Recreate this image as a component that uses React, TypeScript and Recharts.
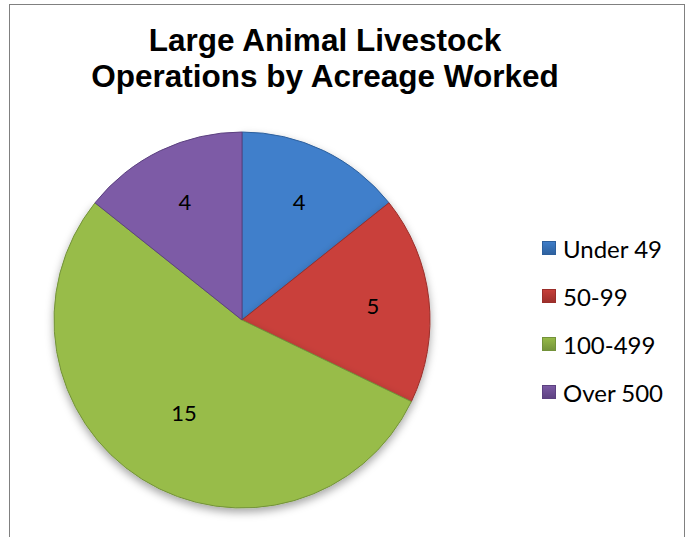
import { Cell, Legend, Pie, PieChart } from "recharts";

const categories = ["Under 49", "50-99", "100-499", "Over 500"];
const operations = [4, 5, 15, 4];
const colors = ["#3f7fcb", "#c9403b", "#98bc48", "#7d5ba6"];
const edges = ["#2d5f9c", "#9a2e2a", "#73923a", "#5c4180"];

const data = categories.map((name, i) => ({ name, value: operations[i] }));

const RADIAN = Math.PI / 180;

function SliceLabel(props: any) {
  const { cx, cy, midAngle, outerRadius, value, percent } = props;
  // the big slice gets its label pulled in a bit, like Excel's best fit
  const r = outerRadius * (percent > 0.5 ? 0.58 : 0.7);
  const x = cx + r * Math.cos(-midAngle * RADIAN);
  const y = cy + r * Math.sin(-midAngle * RADIAN);
  return (
    <text
      x={x}
      y={y}
      textAnchor="middle"
      dominantBaseline="central"
      fill="#000"
      fontFamily="Lato, sans-serif"
      fontSize={22}
    >
      {value}
    </text>
  );
}

function LegendList() {
  return (
    <div>
      {categories.map((name, i) => (
        <div key={name} style={{ display: "flex", alignItems: "center", height: 48 }}>
          <span
            style={{
              width: 14,
              height: 14,
              marginRight: 7,
              background: `linear-gradient(${colors[i]}, ${edges[i]})`,
              boxShadow: `inset 0 0 0 1px ${edges[i]}`,
            }}
          />
          <span style={{ fontFamily: "Lato, sans-serif", fontSize: 24, color: "#000" }}>{name}</span>
        </div>
      ))}
    </div>
  );
}

export default function App() {
  return (
    <div style={{ position: "absolute", left: 0, top: 0, width: 692, height: 537, overflow: "hidden", background: "#fff" }}>
      <div
        style={{
          position: "absolute",
          left: 9,
          top: 4,
          width: 674,
          height: 600,
          border: "1px solid #808080",
        }}
      />
      <div
        style={{
          position: "absolute",
          left: 0,
          top: 22,
          width: 650,
          textAlign: "center",
          fontFamily: "'Liberation Sans', Arial, sans-serif",
          fontWeight: "bold",
          fontSize: 31.5,
          lineHeight: "36px",
          color: "#000",
        }}
      >
        Large Animal Livestock
        <br />
        Operations by Acreage Worked
      </div>
      <div style={{ position: "absolute", left: 0, top: 0 }}>
        <PieChart width={692} height={537} margin={{ top: 0, right: 0, bottom: 0, left: 0 }}>
          <defs>
            <filter id="pieShadow" x="-20%" y="-20%" width="140%" height="140%">
              <feDropShadow dx="0" dy="4" stdDeviation="4" floodColor="#000" floodOpacity="0.35" />
            </filter>
          </defs>
          <Pie
            data={data}
            dataKey="value"
            nameKey="name"
            cx={242}
            cy={320}
            outerRadius={188}
            startAngle={90}
            endAngle={-270}
            label={SliceLabel}
            labelLine={false}
            isAnimationActive={false}
          >
            {data.map((d, i) => (
              <Cell
                key={d.name}
                fill={colors[i]}
                stroke={edges[i]}
                strokeWidth={1}
                filter={i < 3 ? "url(#pieShadow)" : undefined}
              />
            ))}
          </Pie>
          <Legend
            layout="vertical"
            align="right"
            verticalAlign="top"
            content={LegendList}
            wrapperStyle={{ left: 542, top: 224, width: 140 }}
          />
        </PieChart>
      </div>
    </div>
  );
}
